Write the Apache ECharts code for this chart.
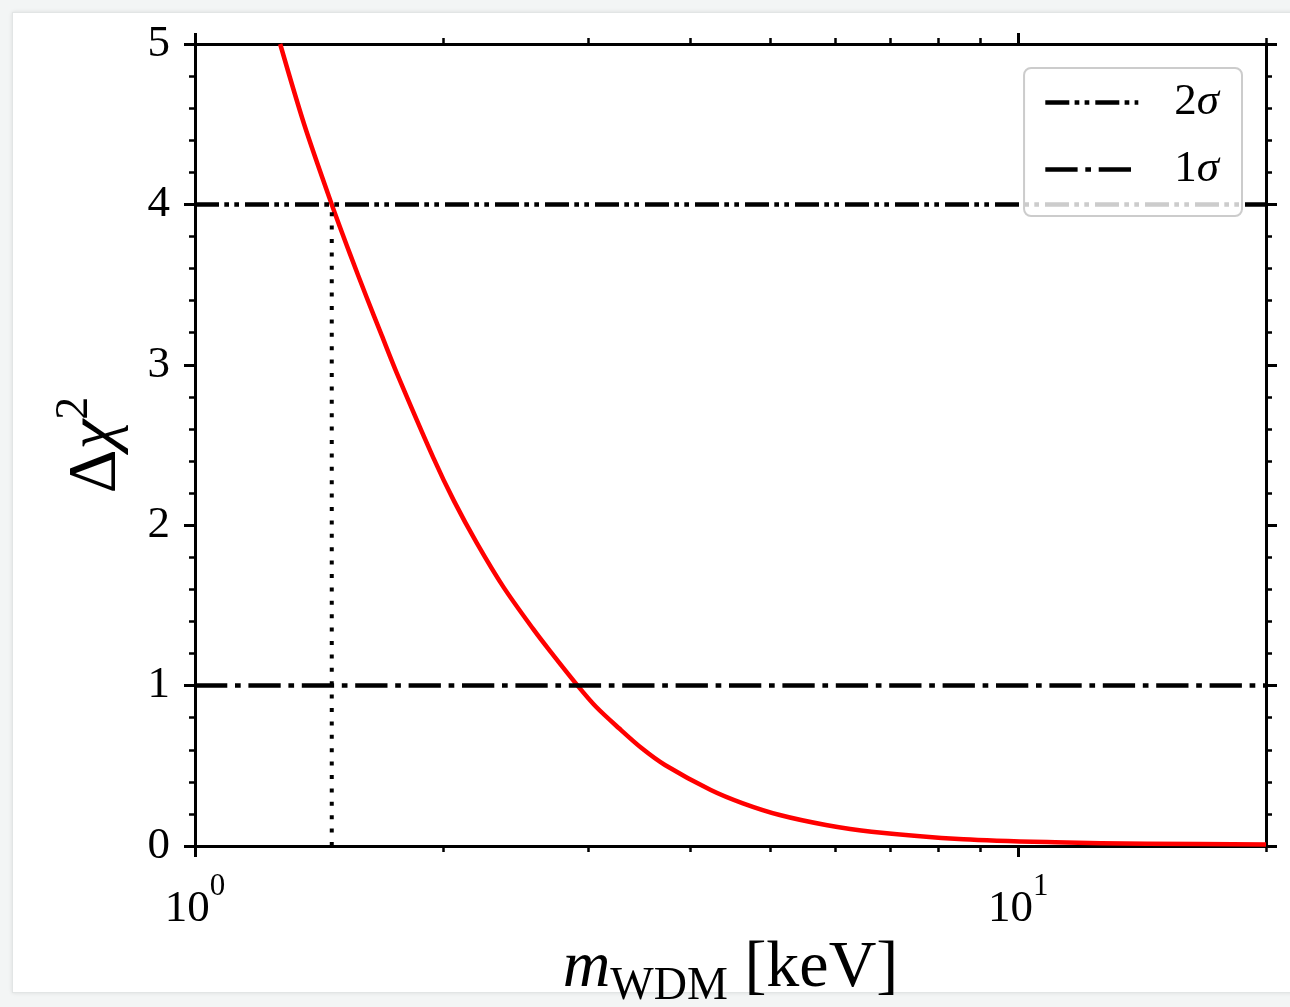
<!DOCTYPE html>
<html>
<head>
<meta charset="utf-8">
<script src="https://cdn.jsdelivr.net/npm/echarts@6/dist/echarts.min.js"></script>
<style>
  html, body { margin: 0; padding: 0; width: 1290px; height: 1007px; overflow: hidden; background: #f3f5f5; }
  #card { position: absolute; left: 12px; top: 12px; width: 1300px; height: 979px; background: #ffffff;
          border: 1px solid #e2e5e5; box-shadow: 0 0 4px rgba(0, 0, 0, 0.10); }
  #chart { position: absolute; left: 0; top: 0; width: 1290px; height: 1007px; }
</style>
</head>
<body>
<div id="card"></div>
<div id="chart"></div>
<script>
// Δχ² profile as a function of the warm dark matter particle mass (keV)
const massKeV = [1.269, 1.357, 1.466, 1.543, 1.617, 1.686, 1.758, 1.948, 2.064, 2.199, 2.370,
                 2.576, 2.700, 2.916, 3.070, 3.274, 3.490, 3.723, 4.232, 4.630, 5.133, 5.840,
                 6.636, 8.580, 11.09, 14.35, 20.0];
const deltaChi2 = [5.0, 4.5, 4.0, 3.69, 3.418, 3.183, 2.95, 2.42, 2.15, 1.89, 1.614,
                   1.352, 1.215, 1.0, 0.868, 0.734, 0.609, 0.505, 0.349, 0.266, 0.193, 0.131,
                   0.089, 0.042, 0.023, 0.014, 0.010];

// Confidence levels drawn as horizontal reference lines
const sigmaNames = ['2σ', '1σ'];
const sigmaLevels = [4, 1];

// Mass where the profile crosses the 2σ level
const twoSigmaMass = 1.466;

// Axis ranges and ticks
const massRange = [1, 20];
const chiRange = [0, 5];
const xMajorTicks = [1, 10];
const xMinorTicks = [2, 3, 4, 5, 6, 7, 8, 9, 20];

const FONT = '"Liberation Serif", "Times New Roman", serif';
const sigmaDashes = [[24, 5.3, 4.7, 5.3, 4.7, 6], [32.3, 7.7, 5.7, 7.7]];

const curveData = massKeV.map((m, i) => [m, deltaChi2[i]]);

function xAxisDef(position, ticks, tickLen, tickWidth, withLine, withLabels) {
  return {
    type: 'log', logBase: 10, position: position,
    min: massRange[0], max: massRange[1],
    gridIndex: 0,
    axisLine: { show: withLine, onZero: false, lineStyle: { color: '#000', width: 3 } },
    axisTick: { show: true, inside: false, length: tickLen, customValues: ticks,
                lineStyle: { color: '#000', width: tickWidth } },
    axisLabel: withLabels ? {
      show: true, customValues: ticks, margin: 41,
      formatter: v => '{b|10}{s|' + Math.round(Math.log10(v)) + '}',
      rich: {
        b: { fontFamily: FONT, fontSize: 45, lineHeight: 45, color: '#000' },
        s: { fontFamily: FONT, fontSize: 31, lineHeight: 31, color: '#000', padding: [0, 0, 45, 0] }
      }
    } : { show: false },
    splitLine: { show: false },
    minorTick: { show: false },
    nameMoveOverlap: false
  };
}

function yAxisDef(position, withLabels) {
  return {
    type: 'value', position: position, min: chiRange[0], max: chiRange[1], interval: 1,
    axisLine: { show: true, onZero: false, lineStyle: { color: '#000', width: 3 } },
    axisTick: { show: true, inside: false, length: 11, lineStyle: { color: '#000', width: 3 } },
    minorTick: { show: true, splitNumber: 5, length: 6, lineStyle: { color: '#000', width: 2.5 } },
    axisLabel: withLabels ? { show: true, margin: 25, fontFamily: FONT, fontSize: 45, color: '#000' }
                          : { show: false },
    splitLine: { show: false },
    minorSplitLine: { show: false },
    nameMoveOverlap: false
  };
}

// Bottom axis carrying the decade labels
const xMain = xAxisDef('bottom', xMajorTicks, 11, 3, true, true);

// Bottom minor-tick axis carrying the axis title
const xMinorBottom = xAxisDef('bottom', xMinorTicks, 6, 2.5, false, false);
xMinorBottom.name = '{i|m}{sub|WDM}{t| [keV]}';
xMinorBottom.nameLocation = 'middle';
xMinorBottom.nameGap = 90;
xMinorBottom.nameTextStyle = {
  rich: {
    i: { fontFamily: FONT, fontSize: 66, fontStyle: 'italic', lineHeight: 66, color: '#000' },
    sub: { fontFamily: FONT, fontSize: 46, lineHeight: 46, color: '#000', padding: [35, 0, 0, 0] },
    t: { fontFamily: FONT, fontSize: 66, lineHeight: 66, color: '#000' }
  }
};

const yMain = yAxisDef('left', true);
yMain.name = '{d|Δ}{c|χ}{s|2}';
yMain.nameLocation = 'middle';
yMain.nameRotate = 90;
yMain.nameGap = 65;
yMain.nameTextStyle = {
  rich: {
    d: { fontFamily: FONT, fontSize: 68, lineHeight: 68, color: '#000' },
    c: { fontFamily: FONT, fontSize: 68, fontStyle: 'italic', lineHeight: 68, color: '#000' },
    s: { fontFamily: FONT, fontSize: 46, lineHeight: 46, color: '#000', padding: [0, 0, 42, 0] }
  }
};

const sigmaSeries = sigmaNames.map((name, i) => ({
  name: name,
  type: 'line',
  xAxisIndex: 0, yAxisIndex: 0,
  data: [[massRange[0], sigmaLevels[i]], [massRange[1], sigmaLevels[i]]],
  symbol: 'none', showSymbol: false,
  itemStyle: { color: '#000' },
  lineStyle: { color: '#000', width: 4.5, type: sigmaDashes[i], cap: 'butt' },
  z: 3,
  silent: true
}));

const option = {
  backgroundColor: 'transparent',
  animation: false,
  grid: { left: 195, right: 24, top: 44, bottom: 161, containLabel: false, outerBoundsMode: 'none' },
  xAxis: [
    xMain,
    xMinorBottom,
    xAxisDef('top', xMajorTicks, 11, 3, true, false),
    xAxisDef('top', xMinorTicks, 6, 2.5, false, false)
  ],
  yAxis: [yMain, yAxisDef('right', false)],
  legend: {
    data: sigmaNames,
    orient: 'vertical',
    right: 48, top: 68,
    padding: [12, 23, 24, 19],
    itemWidth: 93, itemHeight: 20, itemGap: 22,
    itemStyle: { opacity: 0, borderWidth: 0 },
    lineStyle: { width: 4.5, color: '#000' },
    backgroundColor: 'rgba(255,255,255,0.8)',
    borderColor: '#cccccc', borderWidth: 2, borderRadius: 7,
    selectedMode: false,
    formatter: name => '{n|' + name.slice(0, 1) + '}{g|' + name.slice(1) + '}',
    textStyle: {
      padding: [0, 0, 0, 31],
      rich: {
        n: { fontFamily: FONT, fontSize: 45, lineHeight: 45, color: '#000' },
        g: { fontFamily: FONT, fontSize: 45, lineHeight: 45, fontStyle: 'italic', color: '#000' }
      }
    }
  },
  series: [
    {
      name: 'profile',
      type: 'line',
      xAxisIndex: 0, yAxisIndex: 0,
      data: curveData,
      symbol: 'none', showSymbol: false,
      smooth: 0.3,
      lineStyle: { color: '#ff0000', width: 4.5, join: 'round' },
      z: 2,
      silent: true
    },
    ...sigmaSeries,
    {
      name: 'limit',
      type: 'line',
      xAxisIndex: 0, yAxisIndex: 0,
      data: [[twoSigmaMass, chiRange[0]], [twoSigmaMass, sigmaLevels[0]]],
      symbol: 'none', showSymbol: false,
      lineStyle: { color: '#000', width: 4, type: [4, 9.4] },
      z: 3,
      silent: true
    }
  ]
};

const chart = echarts.init(document.getElementById('chart'), null, { renderer: 'canvas' });
chart.setOption(option);
</script>
</body>
</html>
